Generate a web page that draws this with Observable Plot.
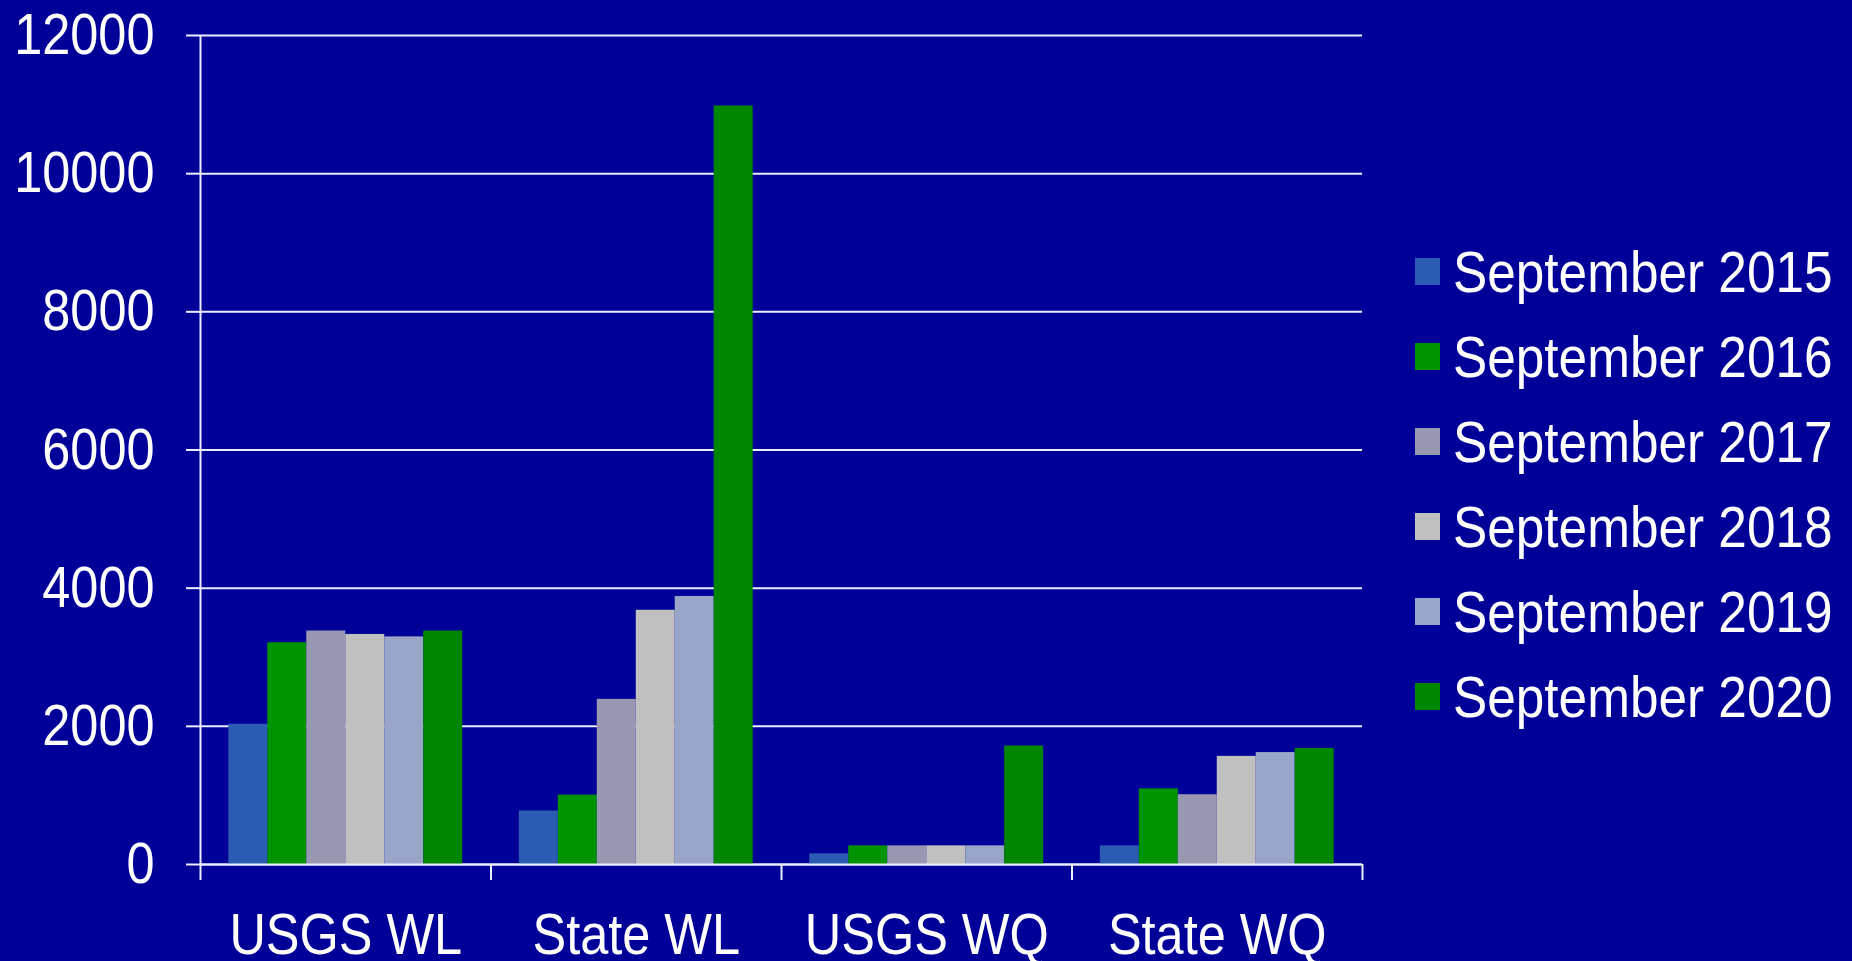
<!DOCTYPE html>
<html>
<head>
<meta charset="utf-8">
<script src="https://cdn.jsdelivr.net/npm/d3@7"></script>
<script src="https://cdn.jsdelivr.net/npm/@observablehq/plot@0.6"></script>
<style>
  html, body { margin: 0; padding: 0; background: #000099; overflow: hidden; }
  #wrap { position: relative; width: 1852px; height: 961px; }
  #legend { position: absolute; left: 1415px; top: 229px; font-family: "Liberation Sans", Arial, sans-serif; font-size: 58px; color: white; }
  .row { display: flex; align-items: center; height: 85px; white-space: nowrap; }
  .sw { width: 25px; height: 27px; margin-right: 13px; flex: none; }
  .lt { display: inline-block; transform: scaleX(0.885); transform-origin: left center; white-space: nowrap; }
</style>
</head>
<body>
<div id="wrap"><div id="chart"></div><div id="legend"></div></div>
<script>
const categories = ["USGS WL", "State WL", "USGS WQ", "State WQ"];
const years = ["September 2015", "September 2016", "September 2017", "September 2018", "September 2019", "September 2020"];
const v2015 = [2030, 775, 155, 270];
const v2016 = [3210, 1005, 270, 1095];
const v2017 = [3380, 2390, 270, 1010];
const v2018 = [3330, 3680, 270, 1565];
const v2019 = [3295, 3880, 270, 1620];
const v2020 = [3380, 10980, 1715, 1680];
const colors = ["#2C5BB4", "#009400", "#9898B2", "#C0C0C0", "#99A5C8", "#008600"];
const yTicks = [0, 2000, 4000, 6000, 8000, 10000, 12000];

const series = [v2015, v2016, v2017, v2018, v2019, v2020];
const groupPad = 0.0975;
const barW = (1 - 2 * groupPad) / years.length;
const data = categories.flatMap((c, i) => years.map((y, j) => ({
  category: c, year: y, value: series[j][i],
  x1: i + groupPad + j * barW, x2: i + groupPad + (j + 1) * barW
})));
const boundaries = d3.range(categories.length + 1);
const centers = categories.map((c, i) => i + 0.5);
const font = "'Liberation Sans', Arial, sans-serif";
const squeeze = 0.87;

const plot = Plot.plot({
  width: 1852, height: 961,
  marginLeft: 200, marginRight: 490, marginTop: 35, marginBottom: 97,
  style: { background: "#000099", color: "white", fontFamily: font, fontSize: "58px" },
  x: { domain: [0, categories.length], axis: null },
  y: { domain: [0, 12000], axis: null },
  color: { domain: years, range: colors },
  marks: [
    Plot.gridY(yTicks, { stroke: "#ececff", strokeOpacity: 1, strokeWidth: 2 }),
    Plot.axisY({ ticks: yTicks, label: null, tickSize: 14, tickPadding: 32, strokeWidth: 2, stroke: "#ececff", fontSize: 58, fill: "white", tickFormat: d => String(d) }),
    Plot.axisX({ ticks: boundaries, label: null, tickSize: 16, strokeWidth: 2, stroke: "#ececff", tickFormat: () => "" }),
    Plot.axisX({ ticks: centers, label: null, tickSize: 0, tickPadding: 48, fontSize: 58, fill: "white", tickFormat: d => categories[Math.floor(d)] }),
    Plot.rectY(data, { x1: "x1", x2: "x2", y: "value", fill: "year", inset: 0 }),
    Plot.ruleX([0], { stroke: "#ececff", strokeWidth: 2 }),
    Plot.ruleY([0], { stroke: "#ececff", strokeWidth: 2 })
  ]
});
document.getElementById("chart").appendChild(plot);
// horizontally condense the text (the reference uses a narrow face)
plot.querySelectorAll("text").forEach(t => {
  const L = t.getComputedTextLength();
  if (L > 0) {
    t.setAttribute("textLength", (L * squeeze).toFixed(2));
    t.setAttribute("lengthAdjust", "spacingAndGlyphs");
  }
});

const legend = document.getElementById("legend");
years.forEach((y, j) => {
  const row = document.createElement("div");
  row.className = "row";
  const sw = document.createElement("div");
  sw.className = "sw";
  sw.style.background = colors[j];
  const t = document.createElement("span");
  t.className = "lt";
  t.textContent = y;
  row.appendChild(sw); row.appendChild(t);
  legend.appendChild(row);
});
</script>
</body>
</html>
